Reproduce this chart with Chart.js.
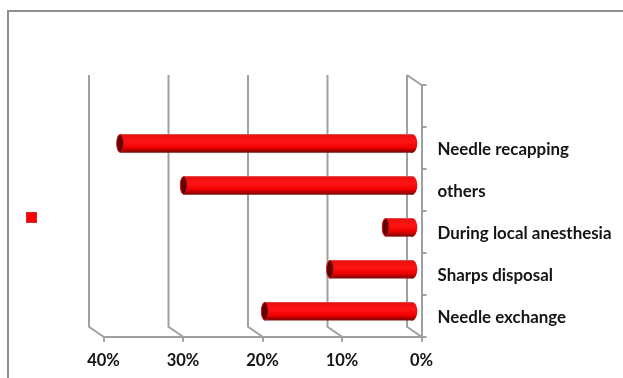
<!DOCTYPE html>
<html>
<head>
<meta charset="utf-8">
<style>
html,body{margin:0;padding:0;background:#fff;overflow:hidden}
canvas{display:block;filter:blur(0.45px)}
</style>
<script src="https://cdn.jsdelivr.net/npm/chart.js@4/dist/chart.umd.min.js"></script>
</head>
<body>
<canvas id="c" width="623" height="378"></canvas>
<script>
const categories = ['', 'Needle recapping', 'others', 'During local anesthesia', 'Sharps disposal', 'Needle exchange'];
const percentValues = [null, 37, 29, 3.6, 10.6, 18.8];
const xTicks = [0, 10, 20, 30, 40];

const GRID = '#a0a0a0', TEXT = '#141414', DEPTH_X = 14.5, DEPTH_Y = 10;

const threeD = {
  id: 'threeD',
  afterLayout(chart) {
    const l = chart.legend;
    l.left = 26; l.right = 37; l.top = 212; l.bottom = 223;
  },
  beforeDraw(chart) {
    const c = chart.ctx;
    c.save();
    c.fillStyle = '#fff';
    c.fillRect(0, 0, chart.width, chart.height);
    c.strokeStyle = '#8f8f8f';
    c.lineWidth = 2;
    c.beginPath();
    c.moveTo(8, 378); c.lineTo(8, 11); c.lineTo(623, 11);
    c.stroke();
    c.restore();
  },
  beforeDatasetsDraw(chart) {
    const c = chart.ctx, x = chart.scales.x, a = chart.chartArea;
    c.save();
    c.strokeStyle = GRID;
    c.lineWidth = 2;
    x.ticks.forEach(t => {
      const px = x.getPixelForValue(t.value);
      c.beginPath();
      c.moveTo(px - DEPTH_X, a.top - DEPTH_Y);
      c.lineTo(px - DEPTH_X, a.bottom - DEPTH_Y);
      c.lineTo(px, a.bottom);
      c.stroke();
    });
    const p0 = x.getPixelForValue(0);
    c.beginPath();
    c.moveTo(p0 - DEPTH_X, a.top - DEPTH_Y);
    c.lineTo(p0, a.top);
    c.stroke();
    c.restore();
  },
  beforeDatasetDraw(chart) {
    chart.ctx.save();
    chart.ctx.translate(-DEPTH_X / 2, -DEPTH_Y / 2 + 0.5);
  },
  afterDatasetDraw(chart, args) {
    const c = chart.ctx;
    chart.getDatasetMeta(args.index).data.forEach(el => {
      if (el.skip || !isFinite(el.x) || percentValues[el.$context.dataIndex] == null) return;
      const h = el.height / 2;
      c.fillStyle = barGradient(c, el.y);
      c.beginPath();
      c.ellipse(el.base - 1, el.y, 5, h, 0, 0, Math.PI * 2);
      c.fill();
      c.fillStyle = '#660000';
      c.strokeStyle = '#c81818';
      c.lineWidth = 1;
      c.beginPath();
      c.ellipse(el.x, el.y, 3.4, h - 0.4, 0, 0, Math.PI * 2);
      c.fill();
      c.stroke();
    });
    c.restore();
  }
};

function barGradient(ctx, y) {
  const g = ctx.createLinearGradient(0, y - 9.3, 0, y + 9.3);
  g.addColorStop(0, '#dc6a6a');
  g.addColorStop(0.07, '#ea1010');
  g.addColorStop(0.4, '#ff1414');
  g.addColorStop(0.72, '#f00000');
  g.addColorStop(0.9, '#a00000');
  g.addColorStop(1, '#7a1010');
  return g;
}

new Chart(document.getElementById('c'), {
  type: 'bar',
  plugins: [threeD],
  data: {
    labels: categories,
    datasets: [{
      label: '',
      data: percentValues,
      borderWidth: 0,
      categoryPercentage: 1,
      barPercentage: 0.445,
      clip: false,
      backgroundColor(ctx) {
        if (ctx.dataIndex === undefined || !ctx.chart.chartArea) return '#f00000';
        return barGradient(ctx.chart.ctx, ctx.chart.scales.y.getPixelForValue(ctx.dataIndex));
      }
    }]
  },
  options: {
    indexAxis: 'y',
    responsive: false,
    animation: false,
    events: [],
    layout: { padding: { left: 81.5, top: 85, right: 0, bottom: 0 } },
    plugins: {
      title: { display: false },
      tooltip: { enabled: false },
      legend: {
        display: true,
        position: 'left',
        labels: {
          boxWidth: 11, boxHeight: 11, padding: 0, font: { size: 2 },
          generateLabels(chart) {
            return Chart.defaults.plugins.legend.labels.generateLabels(chart)
              .map(i => Object.assign(i, { fillStyle: '#ff0000', strokeStyle: '#b84848', lineWidth: 1 }));
          }
        }
      }
    },
    scales: {
      x: {
        type: 'linear',
        reverse: true,
        min: 0,
        max: 40,
        afterBuildTicks(s) { s.ticks = xTicks.map(value => ({ value })); },
        afterFit(s) { s.height = 41.3; },
        grid: { drawOnChartArea: false, drawTicks: true, tickLength: 5, color: GRID, lineWidth: 2 },
        border: { display: true, color: GRID, width: 2 },
        ticks: {
          padding: 9,
          maxRotation: 0,
          color: TEXT,
          font: { family: 'Lato', weight: 'bold', size: 16.5 },
          callback: v => v + '%'
        }
      },
      y: {
        position: 'right',
        afterFit(s) { s.width = 201.5; },
        grid: { offset: true, drawOnChartArea: false, drawTicks: true, tickLength: 5, color: GRID, lineWidth: 2 },
        border: { display: true, color: GRID, width: 2 },
        ticks: {
          padding: 11,
          crossAlign: 'near',
          autoSkip: false,
          labelOffset: 2,
          color: TEXT,
          font: { family: 'Lato', weight: 'bold', size: 16.9 }
        }
      }
    }
  }
});
</script>
</body>
</html>
